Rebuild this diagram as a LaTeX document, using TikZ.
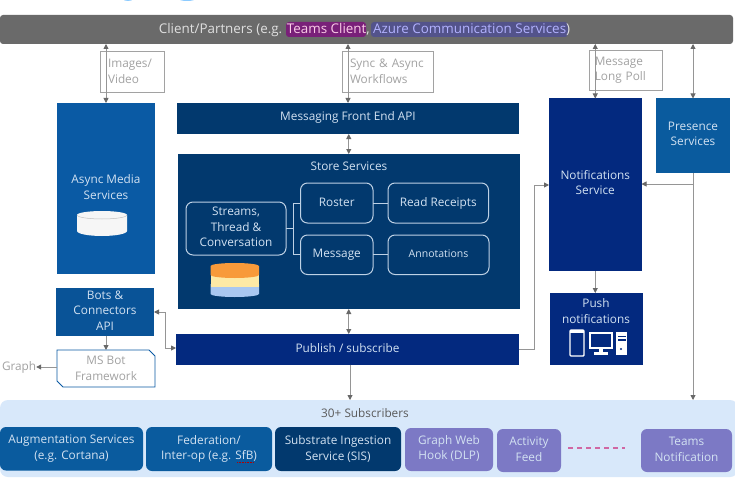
\documentclass[tikz,border=0pt]{standalone}
\usepackage{fontspec}
\setmainfont{Open Sans}
\usetikzlibrary{arrows.meta}
\definecolor{cBar}{HTML}{6A6A6A}
\definecolor{cNavy}{HTML}{02396E}
\definecolor{cRoyal}{HTML}{03297F}
\definecolor{cBlue}{HTML}{0A5AA4}
\definecolor{cTeal}{HTML}{0A5B9E}
\definecolor{cPurple}{HTML}{7C79C5}
\definecolor{cBand}{HTML}{D8E8FA}
\definecolor{cLine}{HTML}{959595}
\definecolor{cHead}{HTML}{686868}
\definecolor{cGrayText}{HTML}{A2A2A2}
\definecolor{cLight}{HTML}{D3E2F2}
\newcommand{\bx}[7]{\node[#6,minimum width={(#4-(#2))*1pt},minimum height={(#5-(#3))*1pt}] (#1) at ({(#2+#4)/2},{(#3+#5)/2}) {#7};}
\newcommand{\lifted}[3]{\node[base,text=cLight] (#1text) at ([yshift=#2pt]#1.center) {#3};}
\tikzset{
  >={Triangle[length=5pt,width=5pt,color=cHead]},
  base/.style={inner sep=0pt,outer sep=0pt,align=center,font=\fontsize{11.8}{15.5}\selectfont},
  solidbox/.style={base,fill=#1,text=cLight},
  inner/.style={base,draw=cLight!90!cNavy,line width=1pt,rounded corners=7pt,text=cLight},
  sub/.style={base,fill=#1,text=cLight,rounded corners=6pt},
  note/.style={base,draw=cGrayText,line width=.8pt,fill=white,text=cGrayText,align=left},
  arr/.style={draw=cLine,line width=.9pt,->},
  biarr/.style={draw=cLine,line width=.9pt,<->},
  link/.style={draw=cLight!90!cNavy,line width=1pt},
}
\begin{document}
\begin{tikzpicture}[x=1pt,y=-1pt]
\useasboundingbox (0,0) rectangle (735,484);
\fill[white] (0,0) rectangle (735,484);
% clipped blue marks at the very top
\fill[blue!45!cyan!45] (128,-1) ellipse (5 and 2);
\fill[blue!45!cyan!45] (187,-1) ellipse (8 and 2);
% band
\fill[cBand,rounded corners=8pt] (0,400) rectangle (738,477);
\coordinate (bandtop) at (350,400);
% top bar
\bx{top}{0}{15}{733}{44}{base,fill=cBar,rounded corners=3pt}{}
\fill[violet!70!cBar,rounded corners=3pt] (286,22) rectangle (366,37);
\fill[blue!22!cBar,rounded corners=3pt] (371,22) rectangle (568,37);
\node[base,font=\fontsize{13.4}{16}\selectfont,text=white!88!black] at (364.5,30) {Client/Partners (e.g. \textcolor{white!80!magenta}{Teams Client}, \textcolor{white!70!blue}{Azure Communication Services})};
% blocks
\bx{async}{57}{103}{155}{274}{solidbox=cBlue}{}
\node[base,text=cLight] at (106,187) {Async Media\\Services};
\bx{front}{177}{103}{519}{134}{solidbox=cNavy}{}
\lifted{front}{1}{Messaging Front End API}
\bx{store}{177.5}{154}{520}{309}{solidbox=cNavy}{}
\node[base,text=cLight] at (349,166) {Store Services};
\bx{streams}{186}{202}{286}{255}{inner}{}
\lifted{streams}{1.7}{Streams,\\Thread \&\\Conversation}
\bx{roster}{300.5}{183}{373}{223}{inner}{}
\lifted{roster}{1}{Roster}
\bx{receipts}{388}{183}{488.5}{223}{inner}{Read Receipts}
\bx{message}{300.5}{235}{373}{274.5}{inner}{Message}
\bx{annot}{388}{235}{489}{274.5}{inner,font=\fontsize{10.5}{15}\selectfont}{}
\node[base,font=\fontsize{10.5}{15}\selectfont,text=cLight] at ([yshift=1pt]annot.center) {Annotations};
\bx{bots}{56}{288}{154}{336}{solidbox=cBlue!92!black}{}
\lifted{bots}{1.7}{Bots \&\\Connectors\\API}
\bx{publish}{176}{334}{519}{364.5}{solidbox=cRoyal}{}
\lifted{publish}{1.5}{Publish / subscribe}
\bx{notif}{549}{98.5}{641.5}{271}{solidbox=cRoyal}{}
\lifted{notif}{2}{Notifications\\Service}
\bx{presence}{656}{98.5}{730}{173}{solidbox=cTeal}{}
\lifted{presence}{1.7}{Presence\\Services}
\bx{push}{549.5}{293}{642.5}{365}{solidbox=cRoyal}{}
\node[base,text=cLight] at (596,311) {Push\\notifications};
% MS Bot Framework
\draw[draw=cBlue,line width=.9pt,fill=white] (57,350) -- (149,350) -- (155,356) -- (155,387) -- (63,387) -- (57,381) -- cycle;
\bx{msbot}{57}{350}{155}{387}{base,text=cGrayText}{MS Bot\\Framework}
\node[base,text=cGrayText,anchor=west] (graph) at (2,367) {Graph};
% note boxes
\bx{images}{100}{51}{164}{92}{note,text width=48pt}{Images/\\Video}
\bx{sync}{342}{51}{433}{92}{note,text width=75pt}{Sync \& Async\\Workflows}
\bx{poll}{589}{50}{662.5}{90}{note,text width=62pt}{Message\\Long Poll}
% connectors
\draw[biarr] (async.north) -- (async.north |- top.south);
\draw[biarr] (front.north) -- (front.north |- top.south);
\draw[biarr] (notif.north) -- (notif.north |- top.south);
\draw[biarr] (presence.north) -- (presence.north |- top.south);
\draw[biarr] (front.south -| store.north) -- (store.north);
\draw[biarr] (store.south) -- (store.south |- publish.north);
\draw[arr] (publish.south -| bandtop) -- (bandtop);
\draw[arr] (bots.south -| msbot.north) -- (msbot.north);
\draw[arr] (msbot.west |- graph.east) -- (graph.east);
\coordinate (bp1) at (165,312);
\coordinate (bp2) at (165,348);
\draw[biarr] (bp1 -| bots.east) -- (bp1) -- (bp2) -- (bp2 -| publish.west);
\coordinate (pn1) at (534,349);
\coordinate (pn2) at (534,185);
\draw[arr] (pn1 -| publish.east) -- (pn1) -- (pn2) -- (pn2 -| notif.west);
\coordinate (pres1) at (693,184);
\draw[arr] (presence.south) -- (pres1) -- (pres1 -| notif.east);
\coordinate (presb) at (693,400);
\draw[arr] (presence.south) -- (presb);
\draw[arr] (notif.south) -- (notif.south |- push.north);
% store internals
\coordinate (busc) at (293,228.5);
\draw[link] (streams.east |- busc) -- (busc);
\draw[link] (roster.west |- 0,203) -- (293,203) -- (293,254.5) -- (message.west |- 0,254.5);
\draw[link] (roster.east) -- (receipts.west);
\draw[link] (message.east) -- (annot.west);
% cylinders
\fill[white!93!gray] (77,215) arc[x radius=25,y radius=4,start angle=180,end angle=360] -- (127,231) arc[x radius=25,y radius=5,start angle=0,end angle=180] -- cycle;
\draw[gray!50,line width=.5pt] (77,215) arc[x radius=25,y radius=4,start angle=180,end angle=0];
\definecolor{cCylB}{HTML}{A9C7F0}
\definecolor{cCylY}{HTML}{FDE9A5}
\definecolor{cCylO}{HTML}{F89A3A}
\fill[cCylB] (210.5,284) -- (259,284) -- (259,294) arc[x radius=24.25,y radius=3,start angle=0,end angle=180] -- cycle;
\fill[cCylY] (210.5,274) rectangle (259,287);
\fill[cCylO] (210.5,266) arc[x radius=24.25,y radius=3,start angle=180,end angle=360] -- (259,275) arc[x radius=24.25,y radius=3,start angle=0,end angle=180] -- cycle;
% device icons
\draw[white,line width=1.4pt,rounded corners=1pt] (570,330) rectangle (584,356);
\fill[white] (570,330) rectangle (584,333);
\draw[white,line width=1.8pt] (590,333) rectangle (612,348);
\fill[white] (599,348) rectangle (603,352);
\fill[white] (594,352) rectangle (608,354.5);
\fill[white] (616,332) rectangle (627,355);
\fill[cRoyal] (617.5,335.5) rectangle (625.5,337);
\fill[cRoyal] (617.5,339) rectangle (625.5,340.5);
\fill[cRoyal] (621,349) circle (1.2);
% subscribers
\node[base,text=black!65] (subs) at (365,413) {30+ Subscribers};
\bx{aug}{0}{427}{143}{470.5}{sub=cTeal}{Augmentation Services\\(e.g. Cortana)}
\bx{fed}{146}{427}{272}{471}{sub=cTeal}{Federation/\\Inter-op (e.g. SfB)}
\draw[red!70!black,line width=.6pt,densely dotted] (237,462) -- (254,462);
\bx{sis}{275}{427}{401}{471}{sub=cNavy}{Substrate Ingestion\\Service (SIS)}
\bx{graphhook}{405}{428}{493}{471}{sub=cPurple}{}
\lifted{graphhook}{1.3}{Graph Web\\Hook (DLP)}
\bx{feed}{497}{429}{561}{472}{sub=cPurple}{}
\lifted{feed}{1.3}{Activity\\Feed}
\bx{teams}{641}{429}{732}{472}{sub=cPurple}{}
\lifted{teams}{1.3}{Teams\\Notification}
\draw[draw=magenta!50!violet!70,line width=1.6pt,dash pattern=on 4.5pt off 4.5pt] (568,448) -- (625,448);
\end{tikzpicture}
\end{document}
